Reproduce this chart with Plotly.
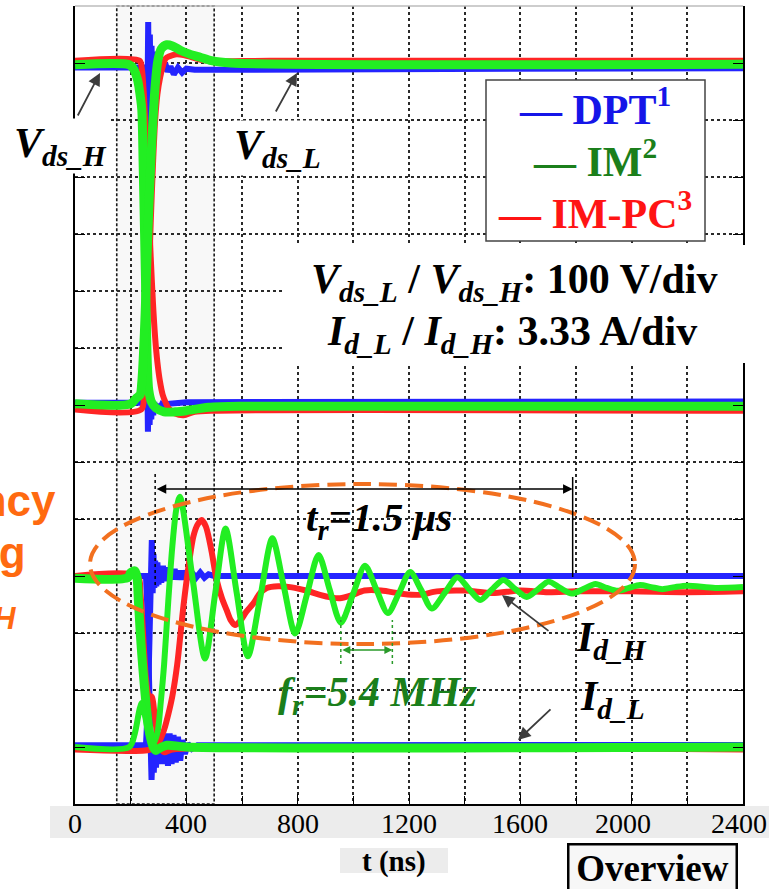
import plotly.graph_objects as go

# ---------------- waveform data (time in ns) ----------------
# Drain-source voltages [V], 100 V/div
t_vh_dpt = [0, 245, 250, 254, 258, 262, 265, 268, 271, 274, 277, 281, 285, 290, 296, 303, 311, 320, 335, 400, 2400]
vh_dpt = [592, 592, 500, 250, 60, -47, 20, -35, 12, -25, 8, -18, 5, -12, 2, -8, 0, -5, 2, 5, 6]

t_vl_dpt = [0, 248, 252, 256, 260, 263, 266, 269, 272, 275, 278, 281, 285, 289, 293, 298, 303, 309, 316, 324,
            333, 343, 355, 370, 385, 400, 430, 2400]
vl_dpt = [4, 4, 90, 350, 620, 672, 480, 650, 520, 630, 545, 620, 565, 612, 575, 606, 582, 603, 586, 600,
          585, 594, 580, 592, 583, 590, 588, 591]

t_vl_pc = [0, 238, 248, 256, 264, 272, 280, 288, 296, 306, 316, 326, 340, 360, 390, 420, 460, 520, 700, 2400]
vl_pc = [-8, -8, 25, 90, 200, 320, 420, 500, 545, 575, 595, 608, 612, 615, 614, 610, 605, 603, 604, 604]

t_vh_pc = [0, 232, 240, 248, 256, 264, 272, 280, 288, 296, 305, 315, 325, 335, 360, 390, 430, 500, 2400]
vh_pc = [604, 604, 590, 540, 450, 350, 260, 180, 118, 75, 42, 18, 5, -5, -15, -18, -12, -10, -10]

t_vh_im = [0, 195, 210, 225, 235, 240, 245, 250, 255, 260, 265, 275, 290, 320, 360, 400, 480, 600, 2400]
vh_im = [597, 597, 590, 570, 540, 518, 420, 300, 180, 70, 26, 5, -5, -12, -12, -10, -4, -2, -2]

t_vl_im = [0, 200, 220, 234, 240, 246, 252, 258, 264, 270, 278, 288, 298, 310, 330, 350, 380, 410, 450, 490, 560, 2400]
vl_im = [2, 2, 12, 18, 40, 90, 160, 250, 330, 400, 480, 560, 605, 625, 632, 630, 622, 616, 610, 604, 600, 598]

# Drain currents [A], 3.33 A/div
t_il_dpt = [0, 255, 259, 263, 267, 271, 275, 279, 283, 287, 291, 295, 300, 305, 310, 316, 322, 328, 334, 340,
            347, 354, 362, 370, 378, 386, 395, 405, 420, 440, 2400]
il_dpt = [10.0, 10.0, 8.5, 5.0, 1.5, -0.8, -1.93, -0.2, -1.5, 0.3, -1.2, 0.5, -1.0, 0.6, -0.9, 0.7, -1.0, 0.8, -1.1, 0.8,
          -1.0, 0.7, -0.9, 0.6, -0.8, 0.4, -0.4, 0.2, -0.1, 0.1, 0.12]

t_ih_dpt = [0, 255, 262, 268, 272, 276, 279, 282, 285, 288, 292, 296, 300, 305, 310, 316, 322, 328, 335, 342,
            350, 358, 366, 375, 385, 395, 405, 420, 435, 450, 465, 480, 500, 2400]
ih_dpt = [0.1, 0.1, 2.5, 7.0, 10.5, 12.1, 9.0, 11.3, 9.3, 10.9, 9.4, 10.8, 9.5, 10.6, 9.6, 10.6, 9.7, 10.5, 9.7, 10.4,
          9.8, 10.4, 9.8, 10.3, 9.8, 10.3, 9.9, 10.2, 9.9, 10.2, 9.9, 10.1, 10.0, 10.0]

t_il_pc = [0, 225, 235, 245, 255, 265, 276, 285, 295, 305, 320, 350, 2400]
il_pc = [10.0, 10.0, 9.0, 6.5, 4.0, 3.0, 2.93, 2.0, 0.8, 0.0, -0.3, -0.15, -0.15]

t_ih_pc = [0, 270, 290, 305, 320, 335, 350, 367, 390, 410, 425, 440, 455, 470, 490, 509, 528, 545, 560, 575,
           595, 615, 641, 665, 689, 730, 773, 830, 880, 920, 952, 990, 1040, 1100, 1180, 1240, 1300, 1400,
           1500, 1600, 1700, 1800, 2000, 2200, 2400]
ih_pc = [-0.15, -0.15, 0.1, 0.4, 1.0, 1.9, 3.0, 4.8, 8.3, 10.8, 12.3, 13.0, 13.27, 12.9, 11.5, 9.77, 8.7, 8.0, 7.4, 7.13,
         7.4, 7.9, 8.4, 9.0, 9.3, 9.4, 9.35, 9.15, 8.9, 8.75, 8.7, 8.85, 9.15, 9.15, 8.95, 8.9, 9.1, 9.15,
         9.0, 9.15, 9.05, 9.1, 9.1, 9.05, 9.1]

t_il_im = [0, 190, 200, 215, 222, 228, 234, 240, 248, 256, 264, 272, 281, 290, 300, 330, 400, 2400]
il_im = [9.87, 9.9, 10.2, 10.3, 10.0, 8.5, 6.8, 5.4, 3.8, 2.4, 1.2, 0.5, 0.0, -0.2, -0.1, 0.1, 0.0, 0.0]

t_ih_im = [0, 195, 215, 232, 240, 252, 266, 282, 297, 308, 320, 335, 350, 364, 377, 422, 467, 504, 541, 581,
           621, 665, 709, 750, 791, 833, 875, 915, 955, 998, 1042, 1083, 1124, 1164, 1204, 1243, 1282, 1328,
           1374, 1415, 1456, 1497, 1539, 1581, 1623, 1662, 1701, 1743, 1785, 1828, 1870, 1910, 1950, 1990,
           2030, 2070, 2110, 2155, 2200, 2300, 2400]
ih_im = [0.0, 0.0, 0.8, 2.2, 2.57, 1.8, 0.7, 0.2, 0.9, 2.6, 4.8, 8.5, 11.8, 13.9, 14.63, 9.9, 5.17, 9.0, 12.77, 9.0,
         5.3, 8.7, 12.2, 9.4, 6.63, 8.9, 11.23, 9.2, 7.27, 8.9, 10.6, 9.2, 7.83, 9.0, 10.23, 9.2, 8.1, 9.0,
         9.93, 9.25, 8.6, 9.2, 9.77, 9.25, 8.77, 9.2, 9.67, 9.3, 8.97, 9.25, 9.53, 9.3, 9.13, 9.3,
         9.47, 9.35, 9.23, 9.35, 9.43, 9.3, 9.35]

# Scope settings and reference levels
TIME_RANGE = [0, 2400]
X_TICKS = [0, 400, 800, 1200, 1600, 2000, 2400]
X_TICK_NUDGE = {2000: -9, 2400: -4}   # label offsets (px) as typeset on the screenshot
V_PER_DIV = 100.0
A_PER_DIV = 3.333
N_DIV = 14
V_ZERO_DIV = 7      # channel zero position (divisions from bottom)
I_ZERO_DIV = 1
ZERO_MARK_T = -56   # reference-level marker sits left of the frame
ZOOM_WINDOW = [150, 500]
T_R_START = 288
T_R_US = 1.5
F_R_START = 955
F_R_MHZ = 5.4

BLUE = "#2424ff"
RED = "#ff2525"
GREEN = "#22ee22"
ORANGE = "#f2701f"
GRID = "#2a2a2a"
SERIF = "Liberation Serif"
SANS = "Liberation Sans"

# plot-area geometry (page pixels)
W, H = 769, 889
ML, MR, MT, MB = 75, 26, 6, 85
PW, PH = W - ML - MR, H - MT - MB


def px(x):
    return (x - ML) / PW


def py(y):
    return (H - MB - y) / PH


fig = go.Figure()


def add_wave(t, v, color, axis, width=6, spline=False):
    fig.add_trace(go.Scatter(
        x=t, y=v, mode="lines", yaxis=axis, showlegend=False, hoverinfo="skip",
        line=dict(color=color, width=width, shape="spline" if spline else "linear",
                  smoothing=0.8 if spline else None),
    ))


# DPT (blue), IM-PC (red), IM (green on top)
add_wave(t_vh_dpt, vh_dpt, BLUE, "y")
add_wave(t_vl_dpt, vl_dpt, BLUE, "y")
add_wave(t_il_dpt, il_dpt, BLUE, "y2")
add_wave(t_ih_dpt, ih_dpt, BLUE, "y2")

add_wave(t_vh_pc, vh_pc, RED, "y", spline=True)
add_wave(t_vl_pc, vl_pc, RED, "y", spline=True)
add_wave(t_il_pc, il_pc, RED, "y2", spline=True)
add_wave(t_ih_pc, ih_pc, RED, "y2", spline=True)

add_wave(t_vh_im, vh_im, GREEN, "y", width=9, spline=True)
add_wave(t_vl_im, vl_im, GREEN, "y", width=9, spline=True)
add_wave(t_il_im, il_im, GREEN, "y2", width=9, spline=True)
add_wave(t_ih_im, ih_im, GREEN, "y2", width=6, spline=True)

# zero-level markers of the voltage and current channels
for axis in ("y", "y2"):
    fig.add_trace(go.Scatter(
        x=[ZERO_MARK_T], y=[0], yaxis=axis, mode="markers", cliponaxis=False,
        showlegend=False, hoverinfo="skip",
        marker=dict(symbol="triangle-right", size=25, color="black"),
    ))

shapes = []
# highlighted switching window
shapes.append(dict(type="rect", xref="x", yref="paper", x0=ZOOM_WINDOW[0], x1=ZOOM_WINDOW[1], y0=0, y1=1,
                   fillcolor="#f8f8f8", line=dict(color="#1a1a1a", width=1.6, dash="3px,2px"), layer="below"))
# tick label band and axis title band
shapes.append(dict(type="rect", xref="paper", yref="paper", x0=px(50), x1=px(769), y0=py(806), y1=py(838),
                   fillcolor="#ececec", line=dict(width=0), layer="below"))
shapes.append(dict(type="rect", xref="paper", yref="paper", x0=px(340), x1=px(448), y0=py(848), y1=py(873),
                   fillcolor="#ececec", line=dict(width=0), layer="below"))
# light top border
shapes.append(dict(type="line", xref="paper", yref="paper", x0=0, x1=1, y0=1, y1=1,
                   line=dict(color="#bdbdbd", width=1.5), layer="above"))
# white backgrounds behind the labels inside the graticule
for x0, x1, y0, y1, layer in [
    (283, 745, 245, 363, "above"),
    (283, 475, 497, 546, "between"),
    (472, 667, 602, 664, "between"),
    (558, 667, 668, 728, "between"),
    (262, 498, 668, 726, "between"),
]:
    shapes.append(dict(type="rect", xref="paper", yref="paper", x0=px(x0), x1=px(x1), y0=py(y1), y1=py(y0),
                       fillcolor="white", line=dict(width=0), layer=layer))
# legend frame
shapes.append(dict(type="rect", xref="paper", yref="paper", x0=px(486), x1=px(705), y0=py(241), y1=py(80),
                   fillcolor="white", line=dict(color="#444", width=1.5), layer="above"))
# ringing region
shapes.append(dict(type="circle", xref="paper", yref="paper", x0=px(90), x1=px(635), y0=py(644), y1=py(484),
                   line=dict(color=ORANGE, width=4, dash="18px,8px"), layer="above"))
# t_r and f_r guide lines
T_R_END = T_R_START + T_R_US * 1000
F_R_END = F_R_START + 1000 / F_R_MHZ
shapes.append(dict(type="line", xref="x", yref="paper", x0=T_R_START, x1=T_R_START, y0=py(585), y1=py(473),
                   line=dict(color="black", width=1.5, dash="dot"), layer="above"))
shapes.append(dict(type="line", xref="x", yref="paper", x0=T_R_END, x1=T_R_END, y0=py(577), y1=py(477),
                   line=dict(color="black", width=1.5), layer="above"))
for tx in (F_R_START, F_R_END):
    shapes.append(dict(type="line", xref="x", yref="paper", x0=tx, x1=tx, y0=py(664), y1=py(620),
                       line=dict(color="#2a9a2a", width=1.5, dash="dot"), layer="above"))

ann = []


def label(text, x, y, size, color="black", family=SERIF, xanchor="center", yanchor="middle", bg=None, **kw):
    d = dict(text=text, x=px(x), y=py(y), xref="paper", yref="paper", showarrow=False,
             xanchor=xanchor, yanchor=yanchor, font=dict(family=family, size=size, color=color))
    if bg:
        d.update(bgcolor=bg)
    d.update(kw)
    ann.append(d)


def pointer(x_head, y_head, x_tail, y_tail):
    ann.append(dict(text="", x=px(x_head), y=py(y_head), xref="paper", yref="paper", showarrow=True,
                    ax=x_tail - x_head, ay=y_tail - y_head, arrowhead=2, arrowsize=1.4, arrowwidth=1.8,
                    arrowcolor="#3c3c3c", standoff=0))


# time-axis tick labels, placed on the data scale
for tv in X_TICKS:
    ann.append(dict(text=str(tv), x=tv, y=py(824), xref="x", yref="paper", showarrow=False,
                    xanchor="center", yanchor="middle", xshift=X_TICK_NUDGE.get(tv, 0),
                    font=dict(family=SERIF, size=28, color="black")))

# channel labels
label("<b><i>V<sub>ds_H</sub></i></b>", 12, 146, 42, xanchor="left", bg="white")
label("<b><i>V<sub>ds_L</sub></i></b>", 232, 148, 42, xanchor="left", bg="white")
pointer(100, 73, 77, 117)
pointer(297, 73, 275, 113)
label("<b><i>I<sub>d_H</sub></i></b>", 574, 640, 42, xanchor="left")
label("<b><i>I<sub>d_L</sub></i></b>", 578, 699, 42, xanchor="left")
pointer(502, 595, 550, 632)
pointer(518, 740, 552, 708)

# scale info
label("<b><i>V</i><sub><i>ds_L</i></sub> / <i>V</i><sub><i>ds_H</i></sub>: 100 V/div</b>", 514, 282, 42)
label("<b><i>I</i><sub><i>d_L</i></sub> / <i>I</i><sub><i>d_H</i></sub>: 3.33 A/div</b>", 512, 334, 42)

# legend entries
label("<b>— DPT<sup>1</sup></b>", 595, 107, 42, color="#1515e8")
label("<b>— IM<sup>2</sup></b>", 595, 159, 42, color="#1b7f1b")
label("<b>— IM-PC<sup>3</sup></b>", 595, 211, 42, color="#ff1414")

# ringing annotations
label(f"<b><i>t<sub>r</sub>={T_R_US} μs</i></b>", 379, 520, 41)
ann.append(dict(text="", x=T_R_END, y=py(489), xref="x", yref="paper", axref="x", ax=T_R_START, ay=0,
                showarrow=True, arrowhead=2, arrowside="end+start", arrowsize=1.2, arrowwidth=1.6,
                arrowcolor="black", standoff=0, startstandoff=0))
label(f"<b><i>f<sub>r</sub>={F_R_MHZ} MHz</i></b>", 377, 695, 42, color="#1b7f1b")
ann.append(dict(text="", x=F_R_END, y=py(650), xref="x", yref="paper", axref="x", ax=F_R_START, ay=0,
                showarrow=True, arrowhead=2, arrowside="end+start", arrowsize=1, arrowwidth=1.6,
                arrowcolor="#2a9a2a", standoff=0, startstandoff=0))

# side note (partly outside the page)
label("<b>Frequency</b>", 58, 500, 44, color="#ff6a10", family=SANS, xanchor="right")
label("<b>Ringing</b>", 28, 552, 44, color="#ff6a10", family=SANS, xanchor="right")
label("<b>on <i>I<sub>d_H</sub></i></b>", 18, 608, 44, color="#ff6a10", family=SANS, xanchor="right")

# axis title and view tag
label("<b>t (ns)</b>", 394, 861, 29)
label("<b>Overview</b>", 652, 868, 37, bg="#f7f7f7", bordercolor="black", borderwidth=2.5, borderpad=3,
      width=160, height=40)

fig.update_layout(
    width=W, height=H, margin=dict(l=ML, r=MR, t=MT, b=MB, autoexpand=False),
    paper_bgcolor="white", plot_bgcolor="white",
    shapes=shapes, annotations=ann, showlegend=False,
    xaxis=dict(range=TIME_RANGE, tickvals=X_TICKS, showticklabels=False,
               showgrid=True, gridcolor=GRID, gridwidth=1.5, griddash="dot",
               minor=dict(dtick=200, showgrid=True, gridcolor=GRID, gridwidth=1.5, griddash="dot",
                          ticks="inside", ticklen=8, tickcolor="black"),
               ticks="inside", ticklen=10, tickcolor="black", showline=True, linecolor="black", linewidth=1.8,
               mirror=False, zeroline=False),
    yaxis=dict(range=[-V_ZERO_DIV * V_PER_DIV, (N_DIV - V_ZERO_DIV) * V_PER_DIV], dtick=V_PER_DIV,
               showgrid=True, gridcolor=GRID, gridwidth=1.5, griddash="dot",
               showticklabels=False, ticks="inside", ticklen=10, tickcolor="black",
               showline=True, linecolor="black", linewidth=1.8, mirror="ticks", zeroline=False),
    yaxis2=dict(range=[-I_ZERO_DIV * A_PER_DIV, (N_DIV - I_ZERO_DIV) * A_PER_DIV], overlaying="y",
                showgrid=False, showticklabels=False, zeroline=False, visible=False),
)

fig.write_html("out.html", config={"displayModeBar": False})
